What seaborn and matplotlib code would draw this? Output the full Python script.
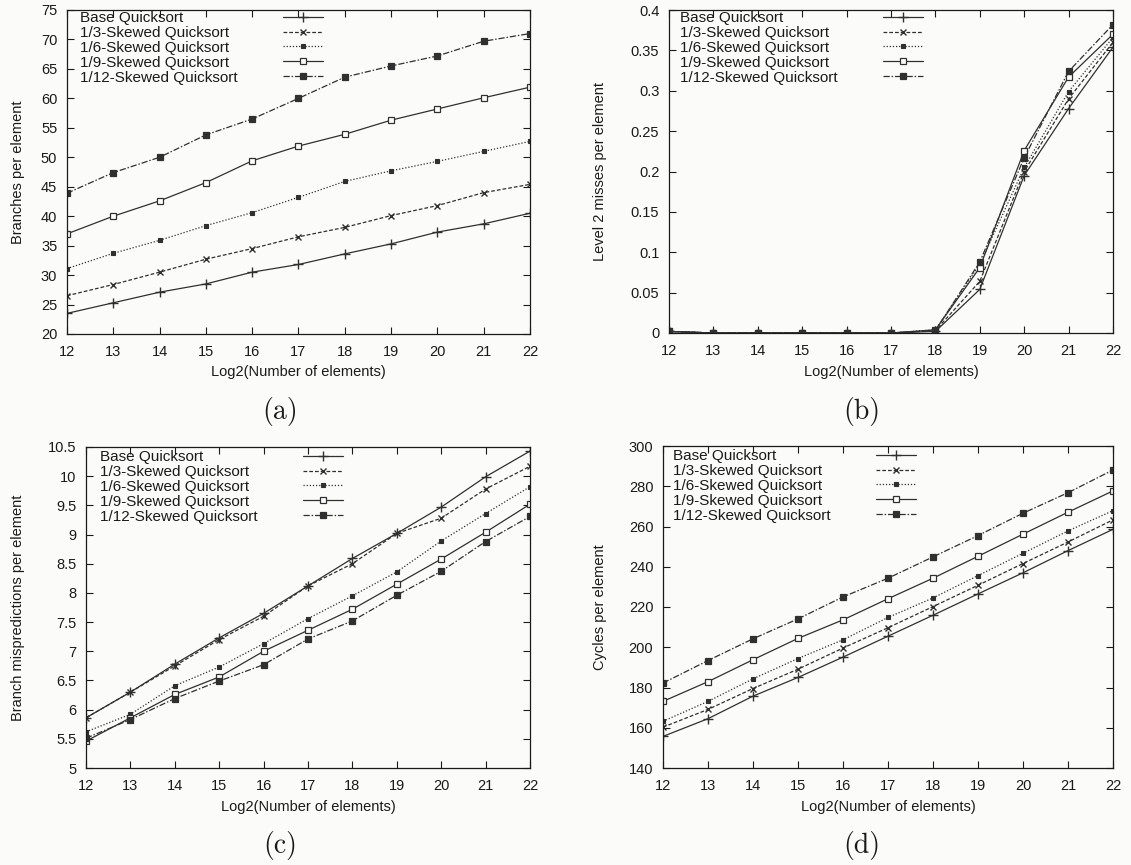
import matplotlib
matplotlib.use("Agg")
import matplotlib.pyplot as plt
import seaborn as sns
import numpy as np
import pandas as pd

# ---------------- data ----------------
log2_sizes = [12, 13, 14, 15, 16, 17, 18, 19, 20, 21, 22]
series_names = ["Base Quicksort", "1/3-Skewed Quicksort", "1/6-Skewed Quicksort",
                "1/9-Skewed Quicksort", "1/12-Skewed Quicksort"]

# (a) Branches per element
branches_base = [23.5, 25.3, 27.1, 28.5, 30.5, 31.8, 33.6, 35.3, 37.3, 38.7, 40.5]
branches_s3 = [26.5, 28.4, 30.5, 32.7, 34.5, 36.5, 38.1, 40.1, 41.8, 44.0, 45.4]
branches_s6 = [31.1, 33.7, 35.9, 38.4, 40.6, 43.2, 45.9, 47.7, 49.3, 51.0, 52.7]
branches_s9 = [37.0, 40.0, 42.6, 45.7, 49.4, 51.9, 53.9, 56.3, 58.2, 60.1, 61.9]
branches_s12 = [43.9, 47.4, 50.0, 53.8, 56.5, 60.0, 63.6, 65.5, 67.2, 69.7, 71.0]

# (b) Level 2 misses per element
l2_base = [0.002, 0.0, 0.0, 0.0, 0.0, 0.0, 0.002, 0.054, 0.195, 0.278, 0.354]
l2_s3 = [0.002, 0.0, 0.0, 0.0, 0.0, 0.0, 0.003, 0.064, 0.200, 0.290, 0.360]
l2_s6 = [0.002, 0.0, 0.0, 0.0, 0.0, 0.0, 0.004, 0.085, 0.205, 0.299, 0.366]
l2_s9 = [0.002, 0.0, 0.0, 0.0, 0.0, 0.0, 0.004, 0.081, 0.226, 0.317, 0.370]
l2_s12 = [0.002, 0.0, 0.0, 0.0, 0.0, 0.0, 0.003, 0.088, 0.217, 0.324, 0.382]

# (c) Branch mispredictions per element
mispred_base = [5.86, 6.30, 6.78, 7.23, 7.65, 8.12, 8.59, 9.02, 9.47, 9.99, 10.43]
mispred_s3 = [5.86, 6.30, 6.75, 7.20, 7.60, 8.12, 8.50, 9.02, 9.28, 9.78, 10.17]
mispred_s6 = [5.62, 5.92, 6.41, 6.73, 7.13, 7.56, 7.95, 8.36, 8.89, 9.36, 9.82]
mispred_s9 = [5.46, 5.86, 6.26, 6.56, 7.00, 7.36, 7.72, 8.15, 8.58, 9.04, 9.52]
mispred_s12 = [5.51, 5.83, 6.19, 6.49, 6.77, 7.21, 7.52, 7.96, 8.37, 8.88, 9.31]

# (d) Cycles per element
cycles_base = [155.7, 164.5, 175.7, 185.0, 195.1, 205.5, 215.9, 226.5, 237.0, 248.0, 258.6]
cycles_s3 = [160.3, 169.1, 179.5, 189.1, 199.6, 209.7, 220.2, 230.8, 241.6, 252.3, 263.3]
cycles_s6 = [163.2, 173.1, 184.3, 194.4, 203.7, 214.8, 224.5, 235.6, 246.7, 257.8, 267.9]
cycles_s9 = [173.1, 182.9, 193.8, 204.4, 213.6, 224.1, 234.3, 245.2, 256.2, 267.1, 277.7]
cycles_s12 = [182.2, 193.4, 204.2, 214.1, 225.0, 234.3, 244.9, 255.5, 266.6, 276.8, 288.1]

panel_ylabels = ["Branches per element", "Level 2 misses per element",
                 "Branch mispredictions per element", "Cycles per element"]
panel_tags = ["(a)", "(b)", "(c)", "(d)"]
xlabel_text = "Log2(Number of elements)"

# ---------------- style ----------------
sns.set_theme(style="ticks")
plt.rcParams["font.family"] = ["Liberation Sans", "DejaVu Sans"]
plt.rcParams["axes.linewidth"] = 0.9

W, H = 1131, 865
fig = plt.figure(figsize=(W / 100, H / 100), dpi=100)
bg = "#fbfbf9"
fig.patch.set_facecolor(bg)

line_col = "#303030"
text_col = "#1a1a1a"
styles = [
    dict(linestyle="-", marker="+", markersize=6.5, mew=1.0, mfc=line_col, mec=line_col),
    dict(linestyle=(0, (3.0, 1.6)), marker="x", markersize=4.5, mew=1.0, mfc=line_col, mec=line_col),
    dict(linestyle=(0, (1.0, 1.5)), marker="s", markersize=3.5, mew=0.8, mfc=line_col, mec=line_col),
    dict(linestyle="-", marker="s", markersize=4.5, mew=0.9, mfc="white", mec=line_col),
    dict(linestyle=(0, (5.0, 1.5, 1.2, 1.5)), marker="s", markersize=4.5, mew=0.9, mfc=line_col, mec=line_col),
]

# pixel boxes: left, top, right, bottom
boxes = [(67, 10, 530, 334), (669, 10, 1113, 333), (86, 447, 530, 768), (663, 446, 1113, 768)]
ylims = [(20, 75), (0, 0.4), (5, 10.5), (140, 300)]
ysteps = [5, 0.05, 0.5, 20]
ylabel_right_px = [25, 607, 25, 607]
xlabel_top_px = [365, 365, 800, 800]
legend_text_px = [(80, 11), (680, 11), (100, 450), (673, 449)]
tag_pos_px = [(280, 412), (862, 412), (280, 845), (862, 845)]

panel_data = [
    [branches_base, branches_s3, branches_s6, branches_s9, branches_s12],
    [l2_base, l2_s3, l2_s6, l2_s9, l2_s12],
    [mispred_base, mispred_s3, mispred_s6, mispred_s9, mispred_s12],
    [cycles_base, cycles_s3, cycles_s6, cycles_s9, cycles_s12],
]

legends = []
for i in range(4):
    l, t, r, b = boxes[i]
    ax = fig.add_axes([l / W, 1 - b / H, (r - l) / W, (b - t) / H])
    ax.set_facecolor(bg)
    for name, vals, st in zip(series_names, panel_data[i], styles):
        df = pd.DataFrame({"x": log2_sizes, "y": vals})
        sns.lineplot(data=df, x="x", y="y", ax=ax, color=line_col, linewidth=0.9,
                     label=name, legend=False, **st)
    ax.set_xlim(12, 22)
    ax.set_ylim(*ylims[i])
    ax.set_xticks(log2_sizes)
    ax.set_xticklabels([str(v) for v in log2_sizes])
    yt = np.arange(ylims[i][0], ylims[i][1] + ysteps[i] / 2, ysteps[i])
    ax.set_yticks(yt)
    ax.set_yticklabels(["%g" % round(v, 4) for v in yt])
    ax.tick_params(direction="in", top=True, right=True, length=5, width=0.8,
                   labelsize=10.5, colors=text_col, pad=7)
    ax.tick_params(axis="x", pad=8)
    for s in ax.spines.values():
        s.set_color(text_col)
        s.set_linewidth(0.9)
    ax.set_xlabel(xlabel_text, fontsize=10.5, color=text_col)
    ax.set_ylabel(panel_ylabels[i], fontsize=10.5, color=text_col)
    ax.yaxis.set_label_coords((ylabel_right_px[i] - l) / (r - l), 0.5)
    ax.xaxis.set_label_coords(0.5, (b - xlabel_top_px[i]) / (b - t))

    handles, labels = ax.get_legend_handles_labels()
    lx, ly = legend_text_px[i]
    leg = ax.legend(handles, labels, loc="upper left", markerfirst=False, frameon=False,
                    fontsize=11, handlelength=2.6, labelspacing=0.06,
                    borderpad=0, borderaxespad=0, handletextpad=1.0,
                    bbox_to_anchor=((lx - l) / (r - l), (b - ly) / (b - t)))
    for txt in leg.get_texts():
        txt.set_color(text_col)
    legends.append(leg)

    tx, ty = tag_pos_px[i]
    fig.text(tx / W, 1 - ty / H, panel_tags[i], ha="center", va="center",
             fontsize=20, family=["cmr10", "DejaVu Serif"], color=text_col)

# align legend samples in a fixed column (gnuplot style key)
fig.canvas.draw()
renderer = fig.canvas.get_renderer()
target_px = 203.0
for leg in legends:
    column = leg._legend_handle_box.get_children()[0]
    column.align = "left"
    for row in column.get_children():
        txtbox = row.get_children()[0]
        w = txtbox.get_bbox(renderer).width
        row.sep = max(1.0, (target_px - w)) * 72.0 / fig.dpi

fig.savefig("out.png", dpi=100, facecolor=fig.get_facecolor())
